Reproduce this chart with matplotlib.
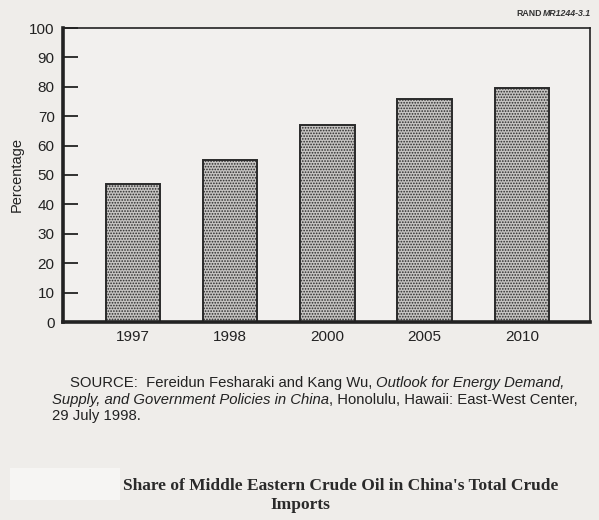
import numpy as np
import matplotlib.pyplot as plt
import matplotlib.patches as mpatches

years = ['1997', '1998', '2000', '2005', '2010']
share = [47, 55, 67, 76, 79.5]
yticks = [0, 10, 20, 30, 40, 50, 60, 70, 80, 90, 100]

plt.rcParams['font.family'] = ['Liberation Sans', 'DejaVu Sans']
plt.rcParams['hatch.color'] = '#adaba9'
plt.rcParams['hatch.linewidth'] = 0.8

bg = '#efedea'
ink = '#222222'
fig = plt.figure(figsize=(5.99, 5.20), dpi=100, facecolor=bg)
ax = fig.add_axes([63/599, 1-322/520, 527/599, 294/520])
ax.set_facecolor('#f2f0ee')

x = np.arange(len(years))
ax.bar(x, share, width=0.56, color='#c6c4c2', edgecolor='#2a2a2a',
       linewidth=1.4, hatch='......', zorder=2)

ax.set_xlim(-0.72, 4.70)
ax.set_ylim(0, 100)
ax.set_yticks(yticks)
ax.set_xticks(x)
ax.set_xticklabels(years)
ax.tick_params(axis='y', direction='in', length=11, width=1.3, labelsize=11,
               pad=6, colors=ink)
ax.tick_params(axis='x', length=0, labelsize=11, pad=6, colors=ink)

ax.spines['left'].set_linewidth(2.6)
ax.spines['bottom'].set_linewidth(2.6)
ax.spines['top'].set_linewidth(1.2)
ax.spines['right'].set_linewidth(1.2)
for s in ax.spines.values():
    s.set_color(ink)

ax.set_ylabel('Percentage', fontsize=10.5, color=ink, labelpad=4)


# text runs with mixed upright/italic pieces on one line
def mixed(parts, x0, y, size, weight='normal', color=ink, gap=0):
    r = fig.canvas.get_renderer()
    xx = x0
    for txt, style in parts:
        t = fig.text(xx, y, txt, ha='left', va='center', fontsize=size,
                     style=style, fontweight=weight, color=color)
        bb = t.get_window_extent(renderer=r)
        xx += (bb.width + gap) / fig.bbox.width


mixed([('RAND', 'normal'), ('MR1244-3.1', 'italic')], 516/599, 1-13/520, 6.3,
      weight='bold', color='#333333', gap=1)

mixed([('SOURCE:  Fereidun Fesharaki and Kang Wu, ', 'normal'),
       ('Outlook for Energy Demand,', 'italic')], 70/599, 1-383/520, 10.7)
mixed([('Supply, and Government Policies in China', 'italic'),
       (', Honolulu, Hawaii: East-West Center,', 'normal')], 52/599, 1-400/520, 10.7)
mixed([('29 July 1998.', 'normal')], 52/599, 1-416/520, 10.7)

fig.patches.append(mpatches.Rectangle((10/599, 1-500/520), 110/599, 32/520,
                                      transform=fig.transFigure, facecolor='#f6f5f3',
                                      edgecolor='none'))
fig.text(341/599, 1-486/520, "Share of Middle Eastern Crude Oil in China's Total Crude",
         ha='center', va='center', fontsize=12.5, family='Liberation Serif',
         fontweight='bold', color='#2a2a2a')
fig.text(300/599, 1-505/520, 'Imports', ha='center', va='center', fontsize=12.5,
         family='Liberation Serif', fontweight='bold', color='#2a2a2a')

fig.savefig('out.png', dpi=100, facecolor=bg)
